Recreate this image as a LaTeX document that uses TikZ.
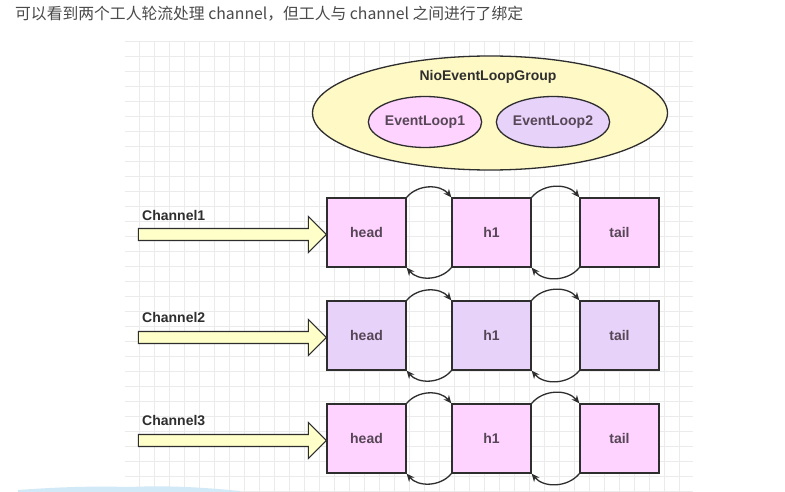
\documentclass[tikz,border=0pt]{standalone}
\usepackage{fontspec}
\setmainfont{Liberation Sans}
\newfontfamily\cjk{Noto Sans CJK SC}
\usetikzlibrary{arrows.meta,shapes.geometric,positioning}
\definecolor{gridgray}{HTML}{EBEBEB}
\definecolor{paleyellow}{HTML}{FFF9C6}
\definecolor{arrowyellow}{HTML}{FFFFC9}
\definecolor{pinkfill}{HTML}{FFD3FF}
\definecolor{lilacfill}{HTML}{E7D3FA}
\definecolor{inkgray}{HTML}{2E2E2E}
\definecolor{boxtext}{HTML}{564656}
\definecolor{captiongray}{HTML}{4A4A4A}
\definecolor{blobblue}{HTML}{D2EAF7}
\tikzset{
  loopbox/.style={draw=inkgray, line width=1.3pt, minimum width=79pt, minimum height=69pt,
    inner sep=0pt, font=\bfseries\fontsize{14}{16}\selectfont, text=boxtext},
  loopellipse/.style={draw=inkgray, line width=1.3pt, ellipse, inner sep=0pt,
    font=\bfseries\fontsize{14}{16}\selectfont, text=boxtext},
  linkarrow/.style={draw=inkgray, line width=1.3pt, -{Stealth[length=8pt,width=7pt]}},
  fatarrow/.style={draw=inkgray, line width=1.2pt, fill=arrowyellow},
  chanlabel/.style={anchor=west, inner sep=0pt, font=\bfseries\fontsize{14}{16}\selectfont, text=inkgray}
}

\begin{document}
\begin{tikzpicture}[x=1pt,y=1pt]
\useasboundingbox (0,0) rectangle (785,-492);
\fill[white] (0,0) rectangle (785,-492);

% grid paper
\begin{scope}[shift={(4,-11)}]
\draw[gridgray, line width=0.8pt, step=15] (121,-30) grid (689,-481);
\end{scope}
\fill[blobblue] (18,-492) -- (18,-490) .. controls (60,-487) and (90,-486) .. (130,-487)
  .. controls (170,-485) and (210,-488) .. (240,-491) -- (240,-492) -- cycle;

\node (caption) [anchor=west, inner sep=0pt, text=captiongray, font=\cjk\fontsize{15.8}{18}\selectfont]
  at (15,-14) {可以看到两个工人轮流处理 channel，但工人与 channel 之间进行了绑定};

% event loop group
\node (group) [loopellipse, fill=paleyellow, minimum width=355pt, minimum height=114pt] at (490,-113) {};
\node (grouptitle) [font=\bfseries\fontsize{14}{16}\selectfont, text=inkgray] at (488,-77) {NioEventLoopGroup};
\node (loop1) [loopellipse, fill=pinkfill, minimum width=103pt, minimum height=51pt] at (425,-122) {EventLoop1};
\node (loop2) [loopellipse, fill=lilacfill, minimum width=103pt, minimum height=51pt] at (553,-122) {EventLoop2};

% channel 1
\node (head1) [loopbox, fill=pinkfill] at (366.5,-232.5) {head};
\node (hone1) [loopbox, fill=pinkfill, right=44.7pt of head1] {h1};
\node (tail1) [loopbox, fill=pinkfill, right=47.7pt of hone1] {tail};
\node (chan1) [chanlabel] at (142,-215) {Channel1};
\draw[fatarrow] ([shift={(-188,4)}]head1.west) -- ++(170,0) -- ++(0,12) -- ([yshift=-2pt]head1.west)
  -- ++(-18,-18) -- ++(0,12) -- ++(-170,0) -- cycle;
\draw[linkarrow] (head1.north east) to[out=50,in=130] (hone1.north west);
\draw[linkarrow] (hone1.south west) to[out=-130,in=-50] (head1.south east);
\draw[linkarrow] (hone1.north east) to[out=50,in=130] (tail1.north west);
\draw[linkarrow] (tail1.south west) to[out=-130,in=-50] (hone1.south east);

% channel 2
\node (head2) [loopbox, fill=lilacfill, below=32.7pt of head1] {head};
\node (hone2) [loopbox, fill=lilacfill, right=44.7pt of head2] {h1};
\node (tail2) [loopbox, fill=lilacfill, right=47.7pt of hone2] {tail};
\node (chan2) [chanlabel] at (142,-317) {Channel2};
\draw[fatarrow] ([shift={(-188,4)}]head2.west) -- ++(170,0) -- ++(0,12) -- ([yshift=-2pt]head2.west)
  -- ++(-18,-18) -- ++(0,12) -- ++(-170,0) -- cycle;
\draw[linkarrow] (head2.north east) to[out=50,in=130] (hone2.north west);
\draw[linkarrow] (hone2.south west) to[out=-130,in=-50] (head2.south east);
\draw[linkarrow] (hone2.north east) to[out=50,in=130] (tail2.north west);
\draw[linkarrow] (tail2.south west) to[out=-130,in=-50] (hone2.south east);

% channel 3
\node (head3) [loopbox, fill=pinkfill, below=32.7pt of head2] {head};
\node (hone3) [loopbox, fill=pinkfill, right=44.7pt of head3] {h1};
\node (tail3) [loopbox, fill=pinkfill, right=47.7pt of hone3] {tail};
\node (chan3) [chanlabel] at (142,-421) {Channel3};
\draw[fatarrow] ([shift={(-188,4)}]head3.west) -- ++(170,0) -- ++(0,12) -- ([yshift=-2pt]head3.west)
  -- ++(-18,-18) -- ++(0,12) -- ++(-170,0) -- cycle;
\draw[linkarrow] (head3.north east) to[out=50,in=130] (hone3.north west);
\draw[linkarrow] (hone3.south west) to[out=-130,in=-50] (head3.south east);
\draw[linkarrow] (hone3.north east) to[out=50,in=130] (tail3.north west);
\draw[linkarrow] (tail3.south west) to[out=-130,in=-50] (hone3.south east);
\end{tikzpicture}
\end{document}
